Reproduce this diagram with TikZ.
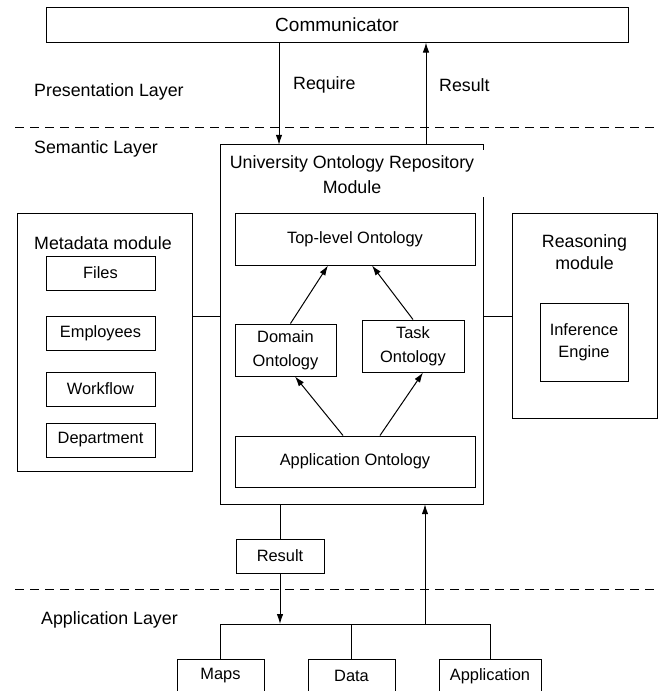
\documentclass[tikz,border=0pt]{standalone}
\usepackage{fontspec}
\setmainfont{Liberation Sans}
\usetikzlibrary{arrows.meta}
\newcommand{\lblfont}{\fontsize{16.4}{24}\selectfont}
\newcommand{\ttlfont}{\fontsize{17.8}{22}\selectfont}
\begin{document}
\begin{tikzpicture}[x=1pt,y=-1pt,
  box/.style={draw, line width=1pt, inner sep=0pt, align=center, font=\lblfont},
  plain/.style={inner sep=0pt, align=center},
  arr/.style={line width=1pt, -{Latex[length=10pt,width=6.5pt]}},
  ln/.style={line width=1pt},
  layer/.style={line width=1pt, dash pattern=on 9pt off 6pt},
  lab/.style={inner sep=0pt, anchor=west, font=\ttlfont}]
\clip (0,0) rectangle (658,691);
\fill[white] (0,0) rectangle (658,691);

% layers
\coordinate (d1a) at (15,127);
\coordinate (d1b) at (658,127);
\coordinate (d2a) at (15,589);
\coordinate (d2b) at (658,589);
\draw[layer] (d1a) -- (d1b);
\draw[layer] (d2a) -- (d2b);
\node[lab] (pl) at (34,92) {Presentation Layer};
\node[lab] (sl) at (34,149) {Semantic Layer};
\node[lab] (al) at (41,620) {Application Layer};

% communicator
\node[box, font=\fontsize{19}{22}\selectfont, minimum width=582, minimum height=35] (comm) at (337,24.5) {Communicator};

% university module
\node[plain, minimum width=262, minimum height=359] (uni) at (352,324.5) {};
\draw[ln] ([yshift=-5]uni.north east) -- (uni.north east) -- (uni.north west) -- (uni.south west) -- (uni.south east) -- ([yshift=-52]uni.north east);
\node[plain, font=\fontsize{17.8}{25}\selectfont] (unititle) at (352,174.5) {University Ontology Repository\\Module};

\node[box, minimum width=240, minimum height=52] (top) at (355,239) {Top-level Ontology};
\node[box, minimum width=101, minimum height=52] (dom) at (285.5,350) {Domain\\Ontology};
\node[box, minimum width=102, minimum height=52] (task) at (413,346) {Task\\Ontology};
\node[box, minimum width=240, minimum height=51] (appo) at (355,461.5) {Application Ontology};

\draw[arr] ([xshift=5]dom.north) -- ([xshift=-27]top.south);
\draw[arr] (task.north) -- ([xshift=17]top.south);
\draw[arr] ([xshift=-12]appo.north) -- ([xshift=9.5]dom.south);
\draw[arr] ([xshift=25]appo.north) -- ([xshift=10]task.south);

% require / result
\coordinate (req) at (279,0);
\coordinate (rsl) at (426,0);
\draw[arr] (comm.south -| req) -- (uni.north -| req);
\draw[arr] (uni.north -| rsl) -- (comm.south -| rsl);
\node[lab, font=\fontsize{17.8}{22}\selectfont] (reqt) at (293,85) {Require};
\node[lab, font=\fontsize{17.8}{22}\selectfont] (rslt) at (439,85) {Result};

% metadata module
\node[box, minimum width=175, minimum height=258] (meta) at (104.5,342) {};
\node[plain, font=\ttlfont] (metat) at (103,243) {Metadata module};
\node[box, minimum width=109, minimum height=34] (files) at (100.5,273) {Files};
\node[box, minimum width=109, minimum height=34] (empl) at (100.5,333) {Employees};
\node[box, minimum width=109, minimum height=34] (wf) at (100.5,389) {Workflow};
\node[box, minimum width=109, minimum height=34] (dept) at (100.5,440) {Department};

% reasoning module
\node[box, minimum width=145, minimum height=205] (reas) at (584.5,315.5) {};
\node[plain, font=\ttlfont] (reast) at (584.5,252.5) {Reasoning\\module};
\node[box, minimum width=88, minimum height=78, font=\fontsize{16.4}{22}\selectfont] (inf) at (584,342) {Inference\\Engine};

\coordinate (hc) at (0,316);
\draw[ln] (meta.east |- hc) -- (uni.west |- hc);
\draw[ln] (uni.east |- hc) -- (reas.west |- hc);

% application layer
\node[box, minimum width=88, minimum height=34] (res) at (280,556) {Result};
\node[box, minimum width=87, minimum height=34] (maps) at (220.5,676) {Maps};
\node[box, minimum width=87, minimum height=34] (data) at (351.5,676) {Data};
\node[box, minimum width=102, minimum height=34] (appl) at (490,676) {Application};
\coordinate (bus) at (0,624);
\coordinate (up) at (425,624);
\draw[ln] (uni.south -| res.north) -- (res.north);
\draw[arr] (res.south) -- (res.south |- bus);
\draw[ln] (maps.north |- bus) -- (appl.north |- bus);
\draw[ln] (maps.north |- bus) -- (maps.north);
\draw[ln] (data.north |- bus) -- (data.north);
\draw[ln] (appl.north |- bus) -- (appl.north);
\draw[arr] (up) -- (up |- uni.south);
\end{tikzpicture}
\end{document}
